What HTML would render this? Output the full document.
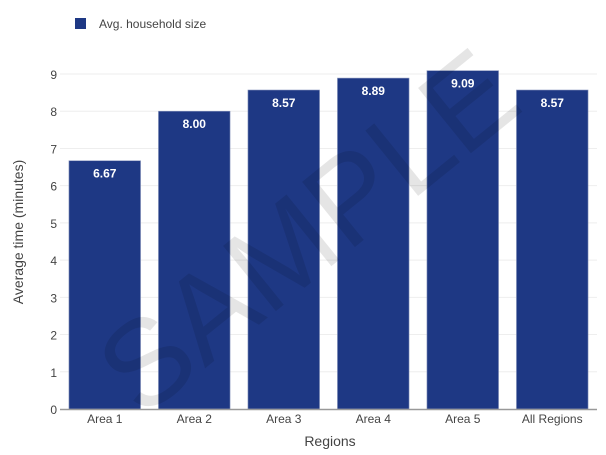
<!DOCTYPE html>
<html><head><meta charset="utf-8"><style>
body{margin:0;background:#fff;}
svg text{font-family:"Liberation Sans","DejaVu Sans",sans-serif;}
</style></head><body>
<svg id="c" width="606" height="450" xmlns="http://www.w3.org/2000/svg">
<rect x="75" y="18" width="11" height="11" fill="#1e3884"/>
<text x="99" y="28" font-size="12" fill="#444">Avg. household size</text>
<g id="grid"></g><g id="bars"></g><g id="labels"></g>
<line x1="60" y1="409.5" x2="597" y2="409.5" stroke="#999" stroke-width="1.5"/>
<text x="330" y="446" font-size="14" fill="#444" text-anchor="middle">Regions</text>
<text transform="translate(23,232) rotate(-90)" font-size="14" fill="#444" text-anchor="middle">Average time (minutes)</text>
<text transform="translate(334,264) rotate(-39)" font-size="122" fill="rgba(0,0,0,0.1)" text-anchor="middle">SAMPLE</text>
</svg>
<script>
const categories=["Area 1","Area 2","Area 3","Area 4","Area 5","All Regions"];
const values=[6.67,8.00,8.57,8.89,9.09,8.57];
const valueLabels=["6.67","8.00","8.57","8.89","9.09","8.57"];
const yTicks=[0,1,2,3,4,5,6,7,8,9];
const NS="http://www.w3.org/2000/svg";
const x0=60,x1=597,y0=409,yTop=74,yMaxVal=9;
const bw=(x1-x0)/categories.length;
const y=v=>y0-(y0-yTop)*v/yMaxVal;
function mk(t,a,p){const e=document.createElementNS(NS,t);for(const k in a)e.setAttribute(k,a[k]);p.appendChild(e);return e;}
const g=document.getElementById('grid'),b=document.getElementById('bars'),l=document.getElementById('labels');
yTicks.forEach(t=>{
 if(t>0){const ln=mk('line',{x1:x0,x2:x1,y1:y(t),y2:y(t),stroke:'#eee','stroke-width':1},g);
 
 }
 const tx=mk('text',{x:57,y:y(t)+5,'font-size':12,fill:'#444','text-anchor':'end'},g);tx.textContent=t;
 
 
});
categories.forEach((c,i)=>{
 const cx=x0+bw*(i+0.5),w=bw*0.8;
 const r=mk('rect',{x:cx-w/2,y:y(values[i]),width:w,height:y0-y(values[i]),fill:'#1e3884',stroke:'#8a96bd','stroke-width':0.6},b);
 
 
 const vt=mk('text',{x:cx,y:y(values[i])+17,'font-size':12,'font-weight':'bold',fill:'#fff','text-anchor':'middle'},l);vt.textContent=valueLabels[i];
 
 
 const ct=mk('text',{x:cx,y:423,'font-size':12,fill:'#444','text-anchor':'middle'},l);ct.textContent=c;
 
 
});
</script>
</body></html>
